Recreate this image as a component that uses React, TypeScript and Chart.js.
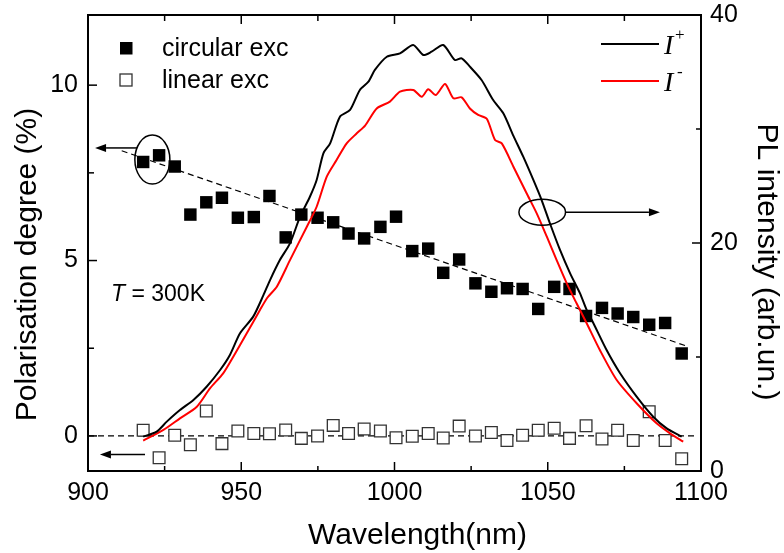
import React, { useEffect, useRef } from 'react';
import { Chart, registerables } from 'chart.js';

Chart.register(...registerables);

// ---- Data ----
const squareWl = [918.0, 923.2, 928.3, 933.4, 938.6, 943.7, 948.9, 954.1, 959.2, 964.5, 969.6, 974.9, 980.0, 985.0, 990.1, 995.4, 1000.5, 1005.8, 1011.0, 1015.9, 1021.1, 1026.4, 1031.6, 1036.7, 1041.8, 1046.9, 1052.1, 1057.1, 1062.5, 1067.7, 1072.8, 1077.9, 1083.1, 1088.3, 1093.7];
const circularExc = [7.81, 8.0, 7.68, 6.31, 6.66, 6.79, 6.22, 6.24, 6.84, 5.66, 6.31, 6.22, 6.09, 5.77, 5.63, 5.96, 6.25, 5.27, 5.34, 4.65, 5.03, 4.35, 4.11, 4.21, 4.19, 3.62, 4.25, 4.19, 3.42, 3.65, 3.49, 3.39, 3.17, 3.22, 2.35];
const linearExc = [0.16, -0.62, 0.02, -0.25, 0.71, -0.22, 0.14, 0.07, 0.06, 0.17, -0.07, 0.0, 0.3, 0.07, 0.2, 0.14, -0.05, -0.01, 0.07, -0.06, 0.28, 0.0, 0.1, -0.13, 0.02, 0.16, 0.22, -0.07, 0.29, -0.09, 0.16, -0.13, 0.69, -0.13, -0.65];

const iPlusWl = [918.0, 922.4, 925.7, 930.0, 934.4, 938.7, 943.1, 946.3, 949.6, 953.9, 957.2, 959.4, 962.6, 965.9, 969.2, 972.4, 974.6, 976.8, 979.0, 982.2, 985.5, 988.7, 991.5, 993.6, 997.5, 1001.8, 1006.1, 1009.4, 1012.1, 1015.9, 1019.7, 1021.9, 1024.6, 1028.4, 1032.2, 1035.5, 1038.8, 1042.0, 1045.3, 1048.0, 1050.7, 1054.0, 1057.3, 1060.5, 1062.7, 1064.9, 1069.2, 1073.6, 1079.0, 1084.4, 1088.8, 1093.7];
const iPlus = [3.01, 3.45, 4.33, 5.35, 6.23, 7.39, 8.86, 10.18, 12.08, 13.54, 15.4, 16.75, 18.5, 19.97, 22.31, 24.06, 25.53, 27.87, 28.74, 31.08, 31.67, 33.42, 34.15, 35.18, 36.34, 36.64, 37.37, 36.49, 36.78, 37.37, 36.05, 36.2, 35.47, 34.3, 32.54, 31.38, 29.4, 27.57, 25.53, 23.77, 21.73, 19.39, 17.34, 15.6, 14.12, 12.96, 10.61, 8.57, 6.52, 4.76, 3.74, 3.01];

const iMinusWl = [918.0, 924.6, 930.0, 935.5, 939.8, 944.1, 947.4, 951.8, 956.1, 958.5, 961.6, 965.9, 971.4, 974.6, 977.9, 981.1, 984.4, 987.7, 990.4, 994.2, 998.5, 1001.8, 1006.1, 1008.9, 1011.0, 1013.5, 1016.5, 1019.2, 1021.9, 1024.6, 1027.3, 1030.1, 1032.8, 1035.0, 1038.8, 1043.1, 1046.4, 1049.7, 1052.9, 1056.2, 1059.4, 1062.7, 1067.0, 1072.5, 1079.0, 1085.5, 1089.9, 1094.2];
const iMinus = [2.66, 3.6, 4.62, 5.64, 7.25, 8.57, 10.03, 12.08, 14.12, 15.2, 16.17, 18.5, 21.43, 23.18, 25.82, 27.28, 28.74, 29.62, 30.3, 31.8, 32.4, 33.27, 33.42, 32.83, 33.48, 32.98, 33.95, 32.69, 32.78, 31.8, 31.23, 30.9, 29.04, 28.74, 26.69, 24.36, 22.6, 20.55, 18.5, 16.46, 14.71, 12.96, 10.61, 7.98, 5.94, 4.18, 3.3, 2.57];

const fitWl = [911, 1096];
const fitPol = [8.13, 2.54];
const zeroWl = [900, 1099];
const zeroPol = [0, 0];

const xMajor = [900, 950, 1000, 1050, 1100];
const xMinor = [925, 975, 1025, 1075];
const yLeftMajor = [0, 5, 10];
const yLeftMinor = [2.5, 7.5];
const yRightMajor = [0, 20, 40];
const yRightMinor = [10, 30];

const xTitle = 'Wavelength(nm)';
const yLeftTitle = 'Polarisation degree (%)';
const yRightTitle = 'PL intensity (arb.un.)';

const SANS = '"Liberation Sans", Arial, Helvetica, sans-serif';
const SERIF = '"Liberation Serif", "Times New Roman", serif';

const pts = (xs: number[], ys: number[]) => xs.map((x, i) => ({ x, y: ys[i] }));

function arrow(ctx: CanvasRenderingContext2D, x1: number, y1: number, x2: number, y2: number) {
  const ang = Math.atan2(y2 - y1, x2 - x1);
  const hl = 11, hw = 4;
  ctx.beginPath();
  ctx.moveTo(x1, y1);
  ctx.lineTo(x2 - hl * Math.cos(ang), y2 - hl * Math.sin(ang));
  ctx.stroke();
  ctx.beginPath();
  ctx.moveTo(x2, y2);
  ctx.lineTo(x2 - hl * Math.cos(ang) + hw * Math.sin(ang), y2 - hl * Math.sin(ang) - hw * Math.cos(ang));
  ctx.lineTo(x2 - hl * Math.cos(ang) - hw * Math.sin(ang), y2 - hl * Math.sin(ang) + hw * Math.cos(ang));
  ctx.closePath();
  ctx.fill();
}

const decorations = {
  id: 'decorations',
  afterDatasetsDraw(chart: any) {
    const { ctx, chartArea: a, scales } = chart;
    const sx = scales.x, yl = scales.y, yr = scales.y2;
    ctx.save();
    ctx.strokeStyle = '#000';
    ctx.fillStyle = '#000';
    // frame
    ctx.lineWidth = 2;
    ctx.strokeRect(a.left, a.top, a.right - a.left, a.bottom - a.top);
    ctx.lineWidth = 1.5;
    const seg = (x1: number, y1: number, x2: number, y2: number) => {
      ctx.beginPath(); ctx.moveTo(x1, y1); ctx.lineTo(x2, y2); ctx.stroke();
    };
    xMajor.forEach(v => { const p = sx.getPixelForValue(v); seg(p, a.bottom, p, a.bottom - 9); seg(p, a.top, p, a.top + 9); });
    xMinor.forEach(v => { const p = sx.getPixelForValue(v); seg(p, a.bottom, p, a.bottom - 5); seg(p, a.top, p, a.top + 6); });
    yLeftMajor.forEach(v => { const p = yl.getPixelForValue(v); seg(a.left, p, a.left + 9, p); });
    yLeftMinor.forEach(v => { const p = yl.getPixelForValue(v); seg(a.left, p, a.left + 6, p); });
    yRightMajor.forEach(v => { const p = yr.getPixelForValue(v); seg(a.right, p, a.right - 9, p); });
    yRightMinor.forEach(v => { const p = yr.getPixelForValue(v); seg(a.right, p, a.right - 5, p); });

    // ellipses and arrows
    ctx.lineWidth = 1.5;
    const lcx = sx.getPixelForValue(921.0), lcy = yl.getPixelForValue(7.88);
    ctx.beginPath(); ctx.ellipse(lcx, lcy, 17.5, 24.5, 0, 0, Math.PI * 2); ctx.stroke();
    const ay = yl.getPixelForValue(8.21);
    arrow(ctx, sx.getPixelForValue(916.0), ay, sx.getPixelForValue(902.3), ay);
    const rcx = sx.getPixelForValue(1048.2), rcy = yr.getPixelForValue(22.7);
    ctx.beginPath(); ctx.ellipse(rcx, rcy, 23.3, 13, 0, 0, Math.PI * 2); ctx.stroke();
    arrow(ctx, sx.getPixelForValue(1055.9), rcy, sx.getPixelForValue(1086.6), rcy);
    const by = yl.getPixelForValue(-0.53);
    arrow(ctx, sx.getPixelForValue(918.6), by, sx.getPixelForValue(903.9), by);

    // left legend
    ctx.fillRect(120, 42, 12.5, 12.5);
    ctx.fillStyle = '#fff';
    ctx.fillRect(120, 74, 12, 12);
    ctx.strokeStyle = '#333';
    ctx.lineWidth = 1.3;
    ctx.strokeRect(120, 74, 12, 12);
    ctx.fillStyle = '#000';
    ctx.font = `25px ${SANS}`;
    ctx.textBaseline = 'alphabetic';
    ctx.textAlign = 'left';
    ctx.fillText('circular exc', 162, 55.5);
    ctx.fillText('linear exc', 162, 88);

    // right legend
    ctx.lineWidth = 2;
    ctx.strokeStyle = '#000';
    seg(601, 44, 659, 44);
    ctx.strokeStyle = '#ff0000';
    seg(601, 81, 659, 81);
    ctx.fillStyle = '#000';
    ctx.font = `italic 28px ${SERIF}`;
    ctx.fillText('I', 664, 53.5);
    ctx.fillText('I', 664, 91);
    ctx.font = `17px ${SERIF}`;
    ctx.fillText('+', 675, 40);
    ctx.fillText('-', 677, 77);

    // temperature label
    ctx.font = `italic 23px ${SANS}`;
    ctx.fillText('T', 111, 300.5);
    const tw = ctx.measureText('T').width;
    ctx.font = `23px ${SANS}`;
    ctx.fillText(' = 300K', 111 + tw, 300.5);

    // axis titles
    ctx.font = `30px ${SANS}`;
    ctx.textAlign = 'center';
    ctx.fillText(xTitle, 417.5, 543.5);
    ctx.save();
    ctx.translate(36, 264.5);
    ctx.rotate(-Math.PI / 2);
    ctx.fillText(yLeftTitle, 0, 0);
    ctx.restore();
    ctx.save();
    ctx.translate(758, 262);
    ctx.rotate(Math.PI / 2);
    ctx.fillText(yRightTitle, 0, 0);
    ctx.restore();
    ctx.restore();
  },
};

const plain = (v: any) => String(v);

export default function App() {
  const ref = useRef<HTMLCanvasElement | null>(null);
  useEffect(() => {
    document.body.style.margin = '0';
    const canvas = ref.current!;
    const chart = new Chart(canvas, {
      type: 'scatter',
      data: {
        datasets: [
          {
            label: 'I+', type: 'line', data: pts(iPlusWl, iPlus), yAxisID: 'y2',
            borderColor: '#000', borderWidth: 2, pointRadius: 0, tension: 0.25, fill: false, order: 0,
          },
          {
            label: 'I-', type: 'line', data: pts(iMinusWl, iMinus), yAxisID: 'y2',
            borderColor: '#ff0000', borderWidth: 2, pointRadius: 0, tension: 0.25, fill: false, order: 0,
          },
          {
            label: 'circular exc', data: pts(squareWl, circularExc), yAxisID: 'y',
            pointStyle: 'rect', pointRadius: 8.8, backgroundColor: '#000', borderColor: '#000', borderWidth: 0, order: 1,
          },
          {
            label: 'linear exc', data: pts(squareWl, linearExc), yAxisID: 'y',
            pointStyle: 'rect', pointRadius: 8.3, backgroundColor: '#fff', borderColor: '#333', borderWidth: 1.3, order: 1,
          },
          {
            label: 'fit', type: 'line', data: pts(fitWl, fitPol), yAxisID: 'y',
            borderColor: '#000', borderWidth: 1.2, borderDash: [6, 4], pointRadius: 0, fill: false, order: 2,
          },
          {
            label: 'zero', type: 'line', data: pts(zeroWl, zeroPol), yAxisID: 'y',
            borderColor: '#000', borderWidth: 1.2, borderDash: [6, 4], pointRadius: 0, fill: false, order: 2,
          },
        ],
      },
      options: {
        animation: false,
        responsive: false,
        events: [],
        layout: { padding: { top: 15, left: 0, right: 0, bottom: 0 } },
        plugins: { legend: { display: false }, tooltip: { enabled: false } },
        scales: {
          x: {
            type: 'linear', min: 900, max: 1100, position: 'bottom',
            grid: { display: false, drawTicks: false }, border: { display: false },
            afterBuildTicks: (s: any) => { s.ticks = xMajor.map(v => ({ value: v })); },
            ticks: { color: '#000', font: { family: SANS, size: 25 }, padding: 7, maxRotation: 0, autoSkip: false, callback: plain },
            title: { display: false },
            afterFit: (s: any) => { s.height = 82; s.paddingLeft = 0; s.paddingRight = 0; },
          },
          y: {
            type: 'linear', min: -1, max: 12, position: 'left',
            grid: { display: false, drawTicks: false }, border: { display: false },
            afterBuildTicks: (s: any) => { s.ticks = yLeftMajor.map(v => ({ value: v })); },
            ticks: { color: '#000', font: { family: SANS, size: 25 }, padding: 10, callback: plain },
            title: { display: false },
            afterFit: (s: any) => { s.width = 88; s.paddingTop = 0; s.paddingBottom = 0; },
          },
          y2: {
            type: 'linear', min: 0, max: 40, position: 'right',
            grid: { display: false, drawTicks: false }, border: { display: false },
            afterBuildTicks: (s: any) => { s.ticks = yRightMajor.map(v => ({ value: v })); },
            ticks: { color: '#000', font: { family: SANS, size: 25 }, padding: 9, callback: plain },
            title: { display: false },
            afterFit: (s: any) => { s.width = 83; s.paddingTop = 0; s.paddingBottom = 0; },
          },
        },
      },
      plugins: [decorations],
    } as any);
    return () => chart.destroy();
  }, []);
  return <canvas ref={ref} width={784} height={553} style={{ display: 'block' }} />;
}
